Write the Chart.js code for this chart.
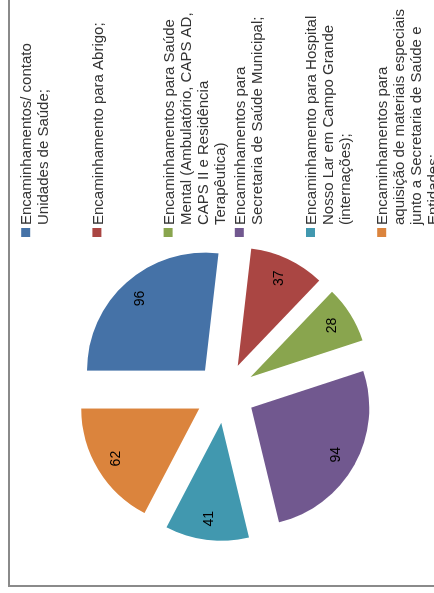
<!DOCTYPE html>
<html>
<head>
<meta charset="utf-8">
<script src="https://cdn.jsdelivr.net/npm/chart.js@4/dist/chart.umd.min.js"></script>
<style>
  html, body { margin: 0; padding: 0; background: #fff; overflow: hidden; }
  /* the chart is laid out landscape and turned a quarter to the left */
  #frame {
    position: absolute; left: 0; top: 0;
    width: 593px; height: 434px;
    transform-origin: 0 0;
    transform: translateY(593px) rotate(-90deg);
  }
</style>
</head>
<body>
<div id="frame"><canvas id="encaminhamentosChart" width="593" height="434"></canvas></div>
<script>
var categories = [
  ['Encaminhamentos/ contato', 'Unidades de Saúde;'],
  ['Encaminhamento para Abrigo;'],
  ['Encaminhamentos para Saúde', 'Mental (Ambulatório, CAPS AD,', 'CAPS II e Residência', 'Terapêutica)'],
  ['Encaminhamentos para', 'Secretaria de Saúde Municipal;'],
  ['Encaminhamento para Hospital', 'Nosso Lar em Campo Grande', '(internações);'],
  ['Encaminhamentos para', 'aquisição de materiais especiais', 'junto a Secretaria de Saúde e', 'Entidades;']
]
var counts = [96, 37, 28, 94, 41, 62]
var sliceColors = ['#4572A7', '#AA4643', '#89A54E', '#71588F', '#4198AF', '#DB843D']

var EXPLODE = 30          // how far each slice is pulled out from the centre
var FONT = '"Liberation Sans", Arial, sans-serif'

// every slice pulled away from the centre along its own bisector
var explodePlugin = {
  id: 'explode',
  beforeDatasetDraw: function(chart, args) {
    var ctx = chart.ctx
    args.meta.data.forEach(function(arc) {
      var mid = (arc.startAngle + arc.endAngle) / 2
      ctx.save()
      ctx.translate(Math.cos(mid) * EXPLODE, Math.sin(mid) * EXPLODE)
      arc.draw(ctx)
      ctx.restore()
    })
    return false
  }
}

// value written inside each slice, near the rim
var valueLabels = {
  id: 'valueLabels',
  afterDatasetsDraw: function(chart) {
    var ctx = chart.ctx
    var meta = chart.getDatasetMeta(0)
    ctx.save()
    ctx.font = '14px ' + FONT
    ctx.fillStyle = '#000'
    ctx.textAlign = 'center'
    ctx.textBaseline = 'middle'
    meta.data.forEach(function(arc, i) {
      var mid = (arc.startAngle + arc.endAngle) / 2
      var r = EXPLODE + arc.outerRadius * 0.82
      ctx.fillText(String(counts[i]), arc.x + Math.cos(mid) * r, arc.y + Math.sin(mid) * r)
    })
    ctx.restore()
  }
}

// frame edge plus the legend on the right, with wrapped lines
var sideLegend = {
  id: 'sideLegend',
  beforeDraw: function(chart) {
    var ctx = chart.ctx
    ctx.save()
    ctx.fillStyle = '#8a8a8a'
    ctx.fillRect(6, 8, 587, 2)
    ctx.fillRect(6, 8, 2, 426)
    ctx.restore()
  },
  afterDraw: function(chart) {
    var ctx = chart.ctx
    ctx.save()
    ctx.font = '15px ' + FONT
    ctx.textBaseline = 'alphabetic'
    ctx.textAlign = 'left'
    categories.forEach(function(lines, i) {
      var top = 20.7 + 71.2 * i
      ctx.fillStyle = sliceColors[i]
      ctx.fillRect(356, top + 0.5, 9, 9)
      ctx.fillStyle = '#333'
      lines.forEach(function(line, j) {
        ctx.fillText(line, 368, top + 10.7 + 17 * j)
      })
    })
    ctx.restore()
  }
}

var chartConfig = {
  type: 'pie',
  data: {
    labels: categories.map(function(l) { return l.join(' ') }),
    datasets: [{
      data: counts,
      backgroundColor: sliceColors,
      borderWidth: 0,
      radius: 118
    }]
  },
  options: {
    responsive: false,
    animation: false,
    devicePixelRatio: 1,
    layout: { padding: { left: 0, right: 193, top: 16, bottom: 0 } },
    plugins: {
      legend: { display: false },
      tooltip: { enabled: false }
    }
  },
  plugins: [sideLegend, explodePlugin, valueLabels]
}

var encaminhamentosChart = new Chart(document.getElementById('encaminhamentosChart'), chartConfig)
</script>
</body>
</html>
